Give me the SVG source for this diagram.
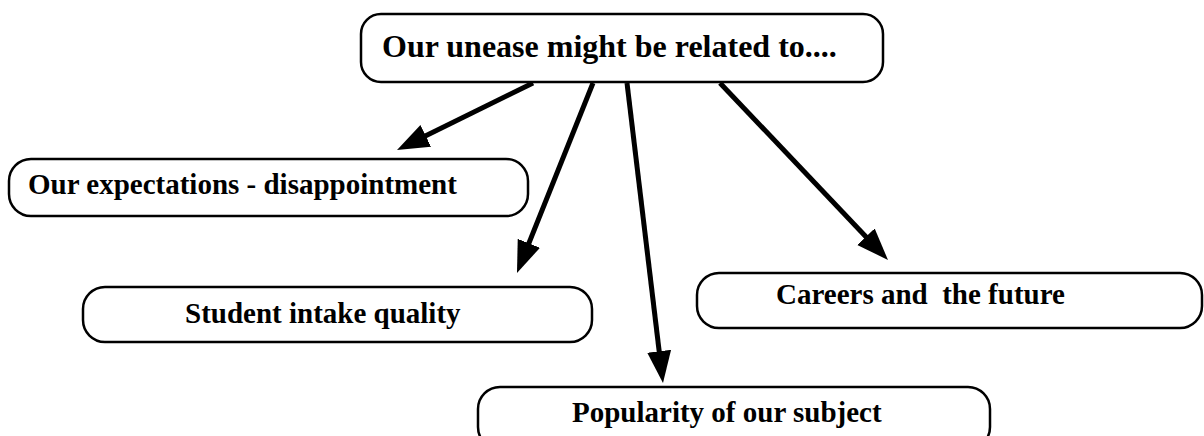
<svg xmlns="http://www.w3.org/2000/svg" width="1204" height="436" viewBox="0 0 1204 436">
<defs>
<style>
.box{fill:#fff;stroke:#000;stroke-width:2.5}
.lbl{font-family:"Liberation Serif","Times New Roman",serif;font-weight:bold;font-size:29px;fill:#000;white-space:pre}
.big{font-size:32px}
.conn{stroke:#000;stroke-width:5;fill:none}
</style>
<marker id="ah" markerUnits="userSpaceOnUse" markerWidth="34" markerHeight="26" refX="22" refY="12" orient="auto">
<path d="M0,0 L32,12 L0,24 z" fill="#000"/>
</marker>
</defs>
<rect width="1204" height="436" fill="#fff"/>
<g id="connectors">
<line class="conn" x1="533" y1="83" x2="406" y2="145.6" marker-end="url(#ah)"/>
<line class="conn" x1="593" y1="83" x2="520.7" y2="263.7" marker-end="url(#ah)"/>
<line class="conn" x1="627" y1="83" x2="661.8" y2="373.1" marker-end="url(#ah)"/>
<line class="conn" x1="720" y1="83" x2="881.1" y2="252.7" marker-end="url(#ah)"/>
</g>
<g id="node-root">
<rect class="box" x="361" y="14" width="522" height="68" rx="20"/>
<text class="lbl big" x="382" y="57">Our unease might be related to....</text>
</g>
<g id="node-expectations">
<rect class="box" x="9" y="159" width="519" height="57" rx="22"/>
<text class="lbl" x="28" y="194">Our expectations - disappointment</text>
</g>
<g id="node-intake">
<rect class="box" x="83" y="287" width="509" height="55" rx="22"/>
<text class="lbl" x="185" y="323">Student intake quality</text>
</g>
<g id="node-careers">
<rect class="box" x="697" y="273" width="505" height="55" rx="22"/>
<text class="lbl" x="776" y="304" xml:space="preserve">Careers and  the future</text>
</g>
<g id="node-popularity">
<rect class="box" x="478" y="387" width="512" height="62" rx="22"/>
<text class="lbl" x="572" y="422">Popularity of our subject</text>
</g>
</svg>
